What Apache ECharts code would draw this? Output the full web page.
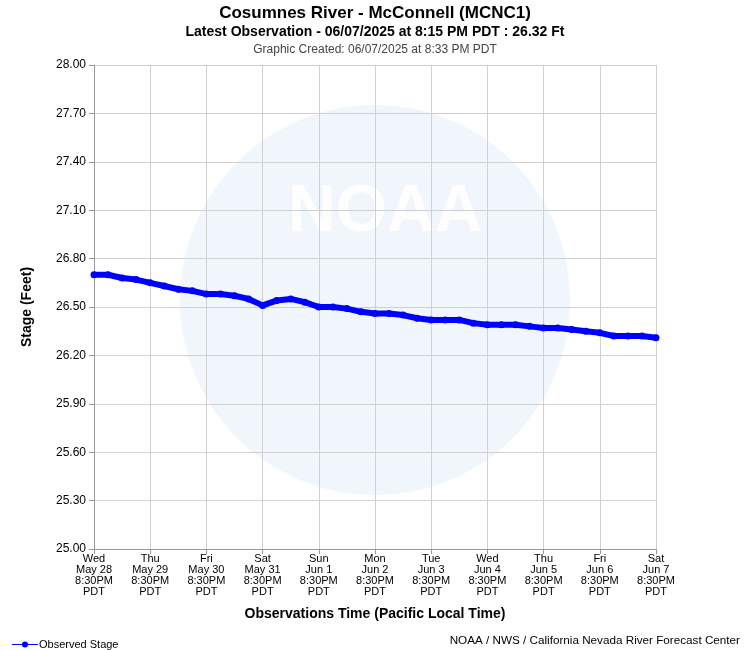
<!DOCTYPE html>
<html><head><meta charset="utf-8">
<script src="https://cdn.jsdelivr.net/npm/echarts@6/dist/echarts.min.js"></script>
<style>html,body{margin:0;padding:0;background:#fff}#c{width:750px;height:650px}</style>
</head><body><div id="c"></div>
<script>
const hours = [0,6,12,18,24,30,36,42,48,54,60,66,72,78,84,90,96,102,108,114,120,126,132,138,144,150,156,162,168,174,180,186,192,198,204,210,216,222,228,234,240];
const stage = [26.70,26.70,26.68,26.67,26.65,26.63,26.61,26.60,26.58,26.58,26.57,26.55,26.51,26.54,26.55,26.53,26.50,26.50,26.49,26.47,26.46,26.46,26.45,26.43,26.42,26.42,26.42,26.40,26.39,26.39,26.39,26.38,26.37,26.37,26.36,26.35,26.34,26.32,26.32,26.32,26.31];
const dayLabels = ['Wed\nMay 28\n8:30PM\nPDT','Thu\nMay 29\n8:30PM\nPDT','Fri\nMay 30\n8:30PM\nPDT','Sat\nMay 31\n8:30PM\nPDT','Sun\nJun 1\n8:30PM\nPDT','Mon\nJun 2\n8:30PM\nPDT','Tue\nJun 3\n8:30PM\nPDT','Wed\nJun 4\n8:30PM\nPDT','Thu\nJun 5\n8:30PM\nPDT','Fri\nJun 6\n8:30PM\nPDT','Sat\nJun 7\n8:30PM\nPDT'];
const chart = echarts.init(document.getElementById('c'));
const F = 'Liberation Sans, Arial, sans-serif';
chart.setOption({
  animation:false,
  textStyle:{fontFamily:F},
  title:[
    {text:'Cosumnes River - McConnell (MCNC1)',left:'center',top:0,textStyle:{fontSize:17,fontWeight:'bold',color:'#000',fontFamily:F}},
    {text:'Latest Observation - 06/07/2025 at 8:15 PM PDT : 26.32 Ft',left:'center',top:20,textStyle:{fontSize:14,fontWeight:'bold',color:'#000',fontFamily:F}},
    {text:'Graphic Created: 06/07/2025 at 8:33 PM PDT',left:'center',top:39,textStyle:{fontSize:12,fontWeight:'normal',color:'#444',fontFamily:F}},
    {text:'NOAA / NWS / California Nevada River Forecast Center',right:5,top:630,textStyle:{fontSize:11.7,fontWeight:'normal',color:'#000',fontFamily:F}}
  ],
  graphic:[
    {type:'circle',shape:{cx:375,cy:300,r:195},style:{fill:'rgba(225,235,250,0.45)'},z:-10,silent:true},
    {type:'text',left:288,top:180,style:{text:'NOAA',fontSize:66,fontWeight:'bold',fill:'rgba(255,255,255,0.9)',fontFamily:F},z:-9,silent:true}
  ],
  legend:{left:7,top:634,itemWidth:26,itemHeight:8,itemGap:4,
    data:[{name:'Observed Stage',icon:'path://M0,4.5L26,4.5L26,5.5L0,5.5Z M13,2A3,3 0 1,1 12.99,2Z'}],
    textStyle:{fontSize:11,color:'#000',padding:[0,0,0,-4]}},
  grid:{left:94,right:94,top:65,bottom:101},
  xAxis:{type:'value',min:0,max:240,interval:24,
    name:'Observations Time (Pacific Local Time)',nameLocation:'middle',nameGap:58,
    nameTextStyle:{fontSize:14,fontWeight:'bold',color:'#000'},
    axisLine:{lineStyle:{color:'#999'}},axisTick:{show:true,length:5,lineStyle:{color:'#999'}},
    splitLine:{show:true,lineStyle:{color:'#d0d0d0'}},
    axisLabel:{color:'#000',fontSize:11,lineHeight:11,margin:4,formatter:v=>dayLabels[Math.round(v/24)]}},
  yAxis:{type:'value',min:25,max:28,interval:0.3,
    name:'Stage (Feet)',nameLocation:'middle',nameGap:60,
    nameTextStyle:{fontSize:14,fontWeight:'bold',color:'#000'},
    axisLine:{show:true,lineStyle:{color:'#999'}},axisTick:{show:true,length:5,lineStyle:{color:'#999'}},
    splitLine:{lineStyle:{color:'#d0d0d0'}},
    axisLabel:{color:'#000',fontSize:12,formatter:v=>v.toFixed(2)}},
  series:[{name:'Observed Stage',type:'line',data:hours.map((h,i)=>[h,stage[i]]),
    lineStyle:{color:'#0000ff',width:6},itemStyle:{color:'#0000ff'},
    symbol:'circle',symbolSize:7,showAllSymbol:true}]
});
</script></body></html>
